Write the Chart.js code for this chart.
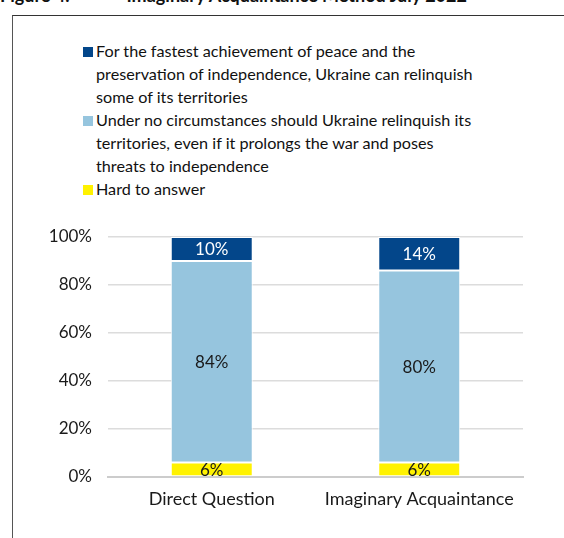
<!DOCTYPE html>
<html>
<head>
<meta charset="utf-8">
<script src="https://cdn.jsdelivr.net/npm/chart.js@4/dist/chart.umd.min.js"></script>
<style>
  html, body { margin: 0; padding: 0; background: #fff; }
  body { width: 564px; height: 538px; position: relative; overflow: hidden;
         font-family: "Lato", "Open Sans", sans-serif; color: #1a1a1a; }
  #fig { position: absolute; left: 0; top: -16px; font-weight: bold; font-size: 18px;
         white-space: pre; color: #111; }
  #frame { position: absolute; left: 12px; top: 15px; width: 560px; height: 540px;
           border-left: 1.5px solid #555; border-top: 1.5px solid #333; }
  #legend { position: absolute; left: 83px; top: 39px; margin: 0; padding: 0; list-style: none;
            font-size: 16.2px; line-height: 23px; color: #111; }
  #legend li { position: relative; padding-left: 13px; }
  #legend li span.box { position: absolute; left: 0; top: 8px; width: 10px; height: 10px; }
  #wrap { position: absolute; left: 0; top: 0; width: 564px; height: 538px; }
</style>
</head>
<body>
<div id="fig">Figure 4.             Imaginary Acquaintance Method July 2022</div>
<div id="frame"></div>
<ul id="legend"></ul>
<div id="wrap"><canvas id="chart"></canvas></div>
<script>
// Datos del gráfico
const categorias = ["Direct Question", "Imaginary Acquaintance"];
const difficil = [6, 6];
const nunca = [84, 80];
const ceder = [10, 14];
const ticksY = [0, 20, 40, 60, 80, 100];

const etiquetas = [
  ["For the fastest achievement of peace and the", "preservation of independence, Ukraine can relinquish", "some of its territories"],
  ["Under no circumstances should Ukraine relinquish its", "territories, even if it prolongs the war and poses", "threats to independence"],
  ["Hard to answer"]
];
const colores = ["#03468a", "#96c5de", "#fff200"];
const coloresTexto = ["#ffffff", "#1a1a1a", "#1a1a1a"];

// Leyenda en HTML (texto en varias lineas)
const legend = document.getElementById("legend");
etiquetas.forEach((lineas, i) => {
  const li = document.createElement("li");
  const box = document.createElement("span");
  box.className = "box";
  box.style.background = colores[i];
  li.appendChild(box);
  li.appendChild(document.createTextNode(lineas[0]));
  lineas.slice(1).forEach((l) => {
    li.appendChild(document.createElement("br"));
    li.appendChild(document.createTextNode(l));
  });
  legend.appendChild(li);
});

// Plugin para poner los valores dentro de las barras
const valoresPlugin = {
  id: "valores",
  afterDatasetsDraw(chart) {
    const ctx = chart.ctx;
    ctx.save();
    ctx.font = "17px Lato, 'Open Sans', sans-serif";
    ctx.textAlign = "center";
    ctx.textBaseline = "middle";
    chart.data.datasets.forEach((ds, i) => {
      const meta = chart.getDatasetMeta(i);
      meta.data.forEach((bar, j) => {
        const mid = (bar.y + bar.base) / 2;
        ctx.fillStyle = ds.textColor;
        ctx.fillText(ds.data[j] + "%", bar.x, mid + 1);
      });
    });
    ctx.restore();
  },
};

const ctx = document.getElementById("chart");
new Chart(ctx, {
  type: "bar",
  data: {
    labels: categorias,
    datasets: [
      { label: "Hard to answer", data: difficil, backgroundColor: colores[2], textColor: coloresTexto[2] },
      { label: etiquetas[1].join(" "), data: nunca, backgroundColor: colores[1], textColor: coloresTexto[1] },
      { label: etiquetas[0].join(" "), data: ceder, backgroundColor: colores[0], textColor: coloresTexto[0] },
    ].map((d) => Object.assign(d, {
      borderColor: "#ffffff",
      borderWidth: 1,
      borderSkipped: false,
      categoryPercentage: 0.79,
      barPercentage: 0.5,
    })),
  },
  options: {
    responsive: true,
    maintainAspectRatio: false,
    animation: false,
    layout: { padding: { top: 237, right: 41, bottom: 0, left: 0 } },
    plugins: { legend: { display: false }, tooltip: { enabled: false } },
    scales: {
      x: {
        stacked: true,
        afterFit: (scale) => { scale.height = 61; },
        grid: { display: false, drawTicks: false },
        border: { color: "#cccccc", width: 2 },
        ticks: { color: "#1a1a1a", font: { family: "Lato", size: 18 }, padding: 11 },
      },
      y: {
        stacked: true,
        min: 0,
        max: 100,
        afterBuildTicks: (scale) => { scale.ticks = ticksY.map((v) => ({ value: v })); },
        afterFit: (scale) => { scale.width = 108; },
        grid: { color: "#dcdcdc", lineWidth: 1.5, drawTicks: false },
        border: { display: false },
        ticks: {
          color: "#1a1a1a",
          font: { family: "Lato", size: 17 },
          padding: 16,
          callback: (v) => v + "%",
        },
      },
    },
  },
  plugins: [valoresPlugin],
});
</script>
</body>
</html>
